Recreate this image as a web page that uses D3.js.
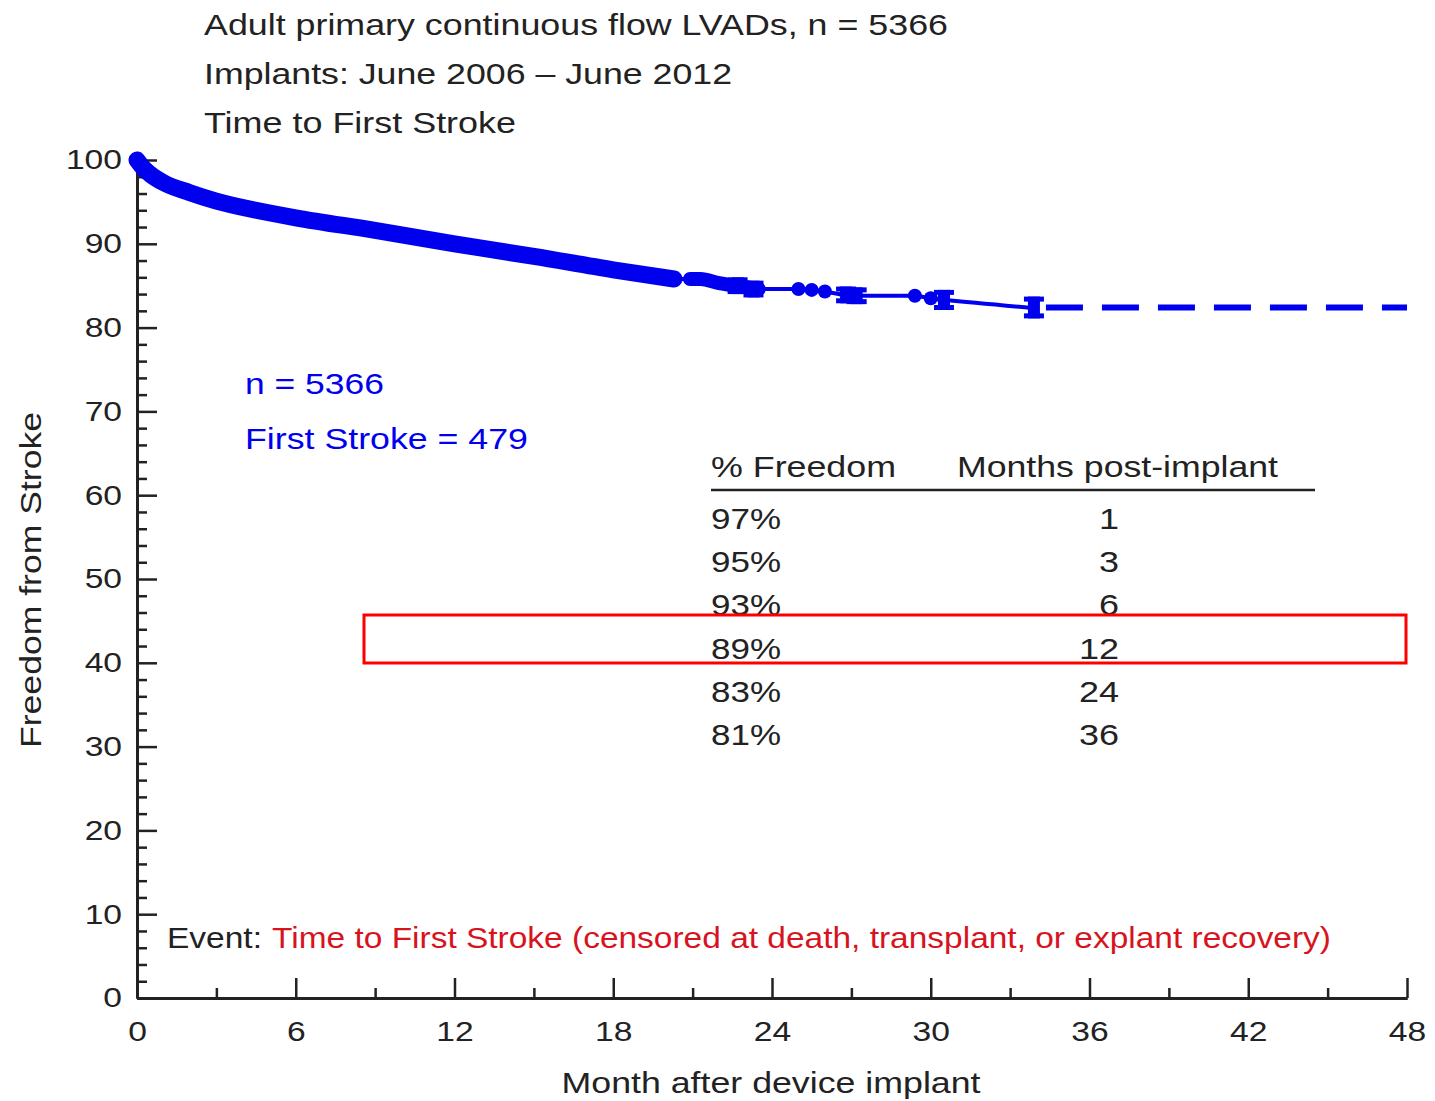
<!DOCTYPE html>
<html>
<head>
<meta charset="utf-8">
<script src="https://cdn.jsdelivr.net/npm/d3@7"></script>
<style>
    body { margin: 0; background: #fff; }
    svg text { font-family: "Liberation Sans", Arial, sans-serif; }
</style>
</head>
<body>
<svg id="chart" width="1435" height="1101"></svg>
<script>
// Kaplan-Meier curve
const kmMonths = [0, 0.25, 0.5, 1, 2, 3, 4.5, 6, 9, 12, 15, 18, 20.4, 21.3, 22, 22.8, 23.6, 25, 25.6, 26.2, 27, 29.4, 30.1, 30.5, 33.9];
const kmPct = [100, 99.0, 98.3, 97.3, 96.1, 95.1, 94.0, 93.1, 91.6, 90.0, 88.5, 86.9, 85.8, 85.8, 85.3, 84.9, 84.6, 84.6, 84.5, 84.2, 83.8, 83.8, 83.4, 83.3, 82.3];

// densely marked stretches of the curve
const denseMonths = [0, 0.25, 0.5, 1, 2, 3, 4.5, 6, 9, 12, 15, 18, 20.3];
const densePct = [100, 99.0, 98.3, 97.3, 96.1, 95.1, 94.0, 93.1, 91.6, 90.0, 88.5, 86.9, 85.8];
const chunkMonths = [20.9, 21.3, 22, 22.8, 23.5];
const chunkPct = [85.8, 85.8, 85.3, 84.9, 84.6];

// censor circles
const censorMonths = [25.0, 25.5, 26.0, 29.4, 30.0];
const censorPct = [84.6, 84.5, 84.3, 83.8, 83.5];

// error bars (confidence limits)
const errMonths = [22.7, 23.3, 26.8, 27.2, 30.5, 33.9];
const errPct = [85.0, 84.6, 83.9, 83.8, 83.3, 82.4];
const errHalf = [1.0, 1.0, 1.0, 1.0, 1.2, 1.3];

// projected tail
const tailMonths = [33.9, 48];
const tailPct = [82.4, 82.4];

const xTicks = [0, 6, 12, 18, 24, 30, 36, 42, 48];
const xMinor = [3, 9, 15, 21, 27, 33, 39, 45];
const yTicks = [0, 10, 20, 30, 40, 50, 60, 70, 80, 90, 100];
const yMinor = [2, 4, 6, 8, 12, 14, 16, 18, 22, 24, 26, 28, 32, 34, 36, 38, 42, 44, 46, 48,
    52, 54, 56, 58, 62, 64, 66, 68, 72, 74, 76, 78, 82, 84, 86, 88, 92, 94, 96, 98];

const titleLines = ['Adult primary continuous flow LVADs, n = 5366', 'Implants: June 2006 \u2013 June 2012', 'Time to First Stroke'];
const tableFreedom = ['97%', '95%', '93%', '89%', '83%', '81%'];
const tableMonths = [1, 3, 6, 12, 24, 36];

const BLUE = '#0000ee';
const INK = '#222';
const STRETCH = 1.2;

const svg = d3.select('#chart');

const x = d3.scaleLinear().domain([0, 48]).range([137, 1407]);
const y = d3.scaleLinear().domain([0, 100]).range([998, 160]);

// the source picture is wide-set, so stretch glyphs horizontally
function stretch(sel, k) {
    sel.each(function () {
        const w = this.getComputedTextLength();
        d3.select(this).attr('textLength', w * k).attr('lengthAdjust', 'spacingAndGlyphs');
    });
}

function addText(txt, px, py, opts) {
    opts = opts || {};
    const t = svg.append('text')
        .attr('x', px).attr('y', py)
        .attr('font-size', opts.size || 30)
        .attr('fill', opts.fill || INK)
        .attr('text-anchor', opts.anchor || 'start')
        .text(txt);
    if (opts.transform) t.attr('transform', opts.transform);
    if (opts.width) t.attr('textLength', opts.width).attr('lengthAdjust', 'spacingAndGlyphs');
    else stretch(t, STRETCH);
    return t;
}

// axes
const xAxis = svg.append('g')
    .attr('transform', 'translate(0,998)')
    .call(d3.axisBottom(x).tickValues(xTicks).tickSize(-20).tickSizeOuter(0).tickPadding(23));
svg.append('g')
    .attr('transform', 'translate(0,998)')
    .call(d3.axisBottom(x).tickValues(xMinor).tickSize(-10).tickSizeOuter(0).tickFormat(''));

const yAxis = svg.append('g')
    .attr('transform', 'translate(137,0)')
    .call(d3.axisLeft(y).tickValues(yTicks).tickSize(-20).tickSizeOuter(0).tickPadding(15));
svg.append('g')
    .attr('transform', 'translate(137,0)')
    .call(d3.axisLeft(y).tickValues(yMinor).tickSize(-10).tickSizeOuter(0).tickFormat(''));

svg.selectAll('.domain').attr('stroke', INK).attr('stroke-width', 3);
svg.selectAll('.tick line').attr('stroke', INK).attr('stroke-width', 2.5);
svg.selectAll('.tick text')
    .attr('font-family', '"Liberation Sans", Arial, sans-serif')
    .attr('font-size', 28)
    .attr('fill', INK);
xAxis.selectAll('.tick text').attr('dy', '0.72em');
stretch(svg.selectAll('.tick text'), 1.2);

// curve
const line = d3.line()
    .x(d => x(d[0]))
    .y(d => y(d[1]))
    .curve(d3.curveMonotoneX);

const km = kmMonths.map((m, i) => [m, kmPct[i]]);
svg.append('path')
    .attr('d', line(km))
    .attr('fill', 'none')
    .attr('stroke', BLUE)
    .attr('stroke-width', 4);

svg.append('path')
    .attr('d', line(denseMonths.map((m, i) => [m, densePct[i]])))
    .attr('fill', 'none')
    .attr('stroke', BLUE)
    .attr('stroke-width', 17)
    .attr('stroke-linecap', 'round')
    .attr('stroke-linejoin', 'round');

svg.append('path')
    .attr('d', line(chunkMonths.map((m, i) => [m, chunkPct[i]])))
    .attr('fill', 'none')
    .attr('stroke', BLUE)
    .attr('stroke-width', 14)
    .attr('stroke-linecap', 'round');

svg.append('path')
    .attr('d', d3.line().x(d => x(d[0])).y(d => y(d[1]))(tailMonths.map((m, i) => [m, tailPct[i]])))
    .attr('fill', 'none')
    .attr('stroke', BLUE)
    .attr('stroke-width', 6)
    .attr('stroke-dasharray', '37,19')
    .attr('stroke-dashoffset', -12);

svg.selectAll('circle.censor')
    .data(censorMonths)
    .enter().append('circle')
    .attr('class', 'censor')
    .attr('cx', d => x(d))
    .attr('cy', (d, i) => y(censorPct[i]))
    .attr('r', 7)
    .attr('fill', BLUE);

const bars = svg.selectAll('g.err')
    .data(errMonths)
    .enter().append('g')
    .attr('class', 'err');
bars.append('rect')
    .attr('x', d => x(d) - 6)
    .attr('y', (d, i) => y(errPct[i] + errHalf[i]))
    .attr('width', 12)
    .attr('height', (d, i) => y(errPct[i] - errHalf[i]) - y(errPct[i] + errHalf[i]))
    .attr('fill', BLUE);
bars.append('rect')
    .attr('x', d => x(d) - 10)
    .attr('y', (d, i) => y(errPct[i] + errHalf[i]))
    .attr('width', 20)
    .attr('height', 5)
    .attr('fill', BLUE);
bars.append('rect')
    .attr('x', d => x(d) - 10)
    .attr('y', (d, i) => y(errPct[i] - errHalf[i]) - 5)
    .attr('width', 20)
    .attr('height', 5)
    .attr('fill', BLUE);

// titles
const titleWidths = [744, 528, 312];
titleLines.forEach((t, i) => addText(t, 204, 35 + i * 49, {width: titleWidths[i]}));

// axis titles
addText('Month after device implant', 771, 1093, {anchor: 'middle', width: 419});
addText('Freedom from Stroke', 0, 0, {anchor: 'middle', width: 336, transform: 'translate(41,580) rotate(-90)'});

// counts
addText('n = 5366', 245, 394, {fill: BLUE, width: 139});
addText('First Stroke = 479', 245, 449, {fill: BLUE, width: 283});

// table
addText('% Freedom', 711, 477, {width: 185});
addText('Months post-implant', 957, 477, {width: 321});
svg.append('line')
    .attr('x1', 711).attr('x2', 1315)
    .attr('y1', 490).attr('y2', 490)
    .attr('stroke', INK).attr('stroke-width', 2.5);
tableFreedom.forEach((f, i) => {
    addText(f, 711, 529 + i * 43.2, {width: 70});
    addText(String(tableMonths[i]), 1119, 529 + i * 43.2, {anchor: 'end'});
});

// highlight box on 12 month row
svg.append('rect')
    .attr('x', 364).attr('y', 615)
    .attr('width', 1042).attr('height', 48)
    .attr('fill', 'none')
    .attr('stroke', '#ff0000')
    .attr('stroke-width', 3);

// event note
addText('Event:', 167, 948, {width: 95});
addText('Time to First Stroke (censored at death, transplant, or explant recovery)', 272, 948, {fill: '#d7141e', width: 1059});
</script>
</body>
</html>
